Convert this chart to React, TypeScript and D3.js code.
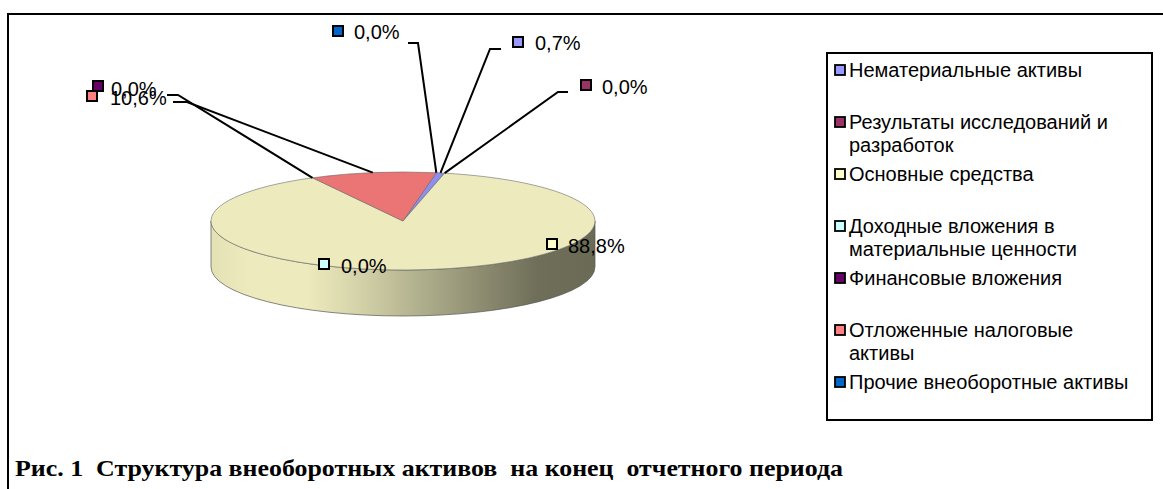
import React from 'react';
import * as d3 from 'd3';

const categories = [
  'Нематериальные активы',
  'Результаты исследований и разработок',
  'Основные средства',
  'Доходные вложения в материальные ценности',
  'Финансовые вложения',
  'Отложенные налоговые активы',
  'Прочие внеоборотные активы',
];
const legendLines = [
  ['Нематериальные активы'],
  ['Результаты исследований и', 'разработок'],
  ['Основные средства'],
  ['Доходные вложения в', 'материальные ценности'],
  ['Финансовые вложения'],
  ['Отложенные налоговые', 'активы'],
  ['Прочие внеоборотные активы'],
];
const values = [0.7, 0.0, 88.8, 0.0, 0.0, 10.6, 0.0];
const seriesColors = ['#9999FF', '#993366', '#FFFFCC', '#CCFFFF', '#660066', '#FF8080', '#0066CC'];
const faceColors = ['#8E8EEE', '#8E3060', '#EDEBBD', '#BEEDED', '#5E005E', '#EB7575', '#005EBE'];
const title = 'Рис. 1  Структура внеоборотных активов  на конец  отчетного периода';

// label layout (marker centre, text start, leader elbow)
const labelLayout = [
  { mx: 518, my: 42, tx: 535, ty: 43, leader: [[501, 49], [490, 49]] },
  { mx: 586, my: 85, tx: 602, ty: 87, leader: [[568, 92], [558, 92]] },
  { mx: 552, my: 244, tx: 568, ty: 246, leader: null },
  { mx: 324, my: 264, tx: 341, ty: 266, leader: null },
  { mx: 98, my: 86, tx: 111, ty: 89, leader: [[167, 95], [178, 95]] },
  { mx: 92, my: 96, tx: 110, ty: 98, leader: [[173, 102], [187, 102]] },
  { mx: 338, my: 31, tx: 354, ty: 32, leader: [[408, 43], [418, 43]] },
];

const cx = 403, cy = 221, rx = 192, ry = 49, depth = 46;
const startDeg = 10;

const fmt = (v: number) => d3.format('.1f')(v).replace('.', ',') + '%';

export default function App() {
  const pie = d3
    .pie<number>()
    .sort(null)
    .value((d) => d)
    .startAngle((startDeg * Math.PI) / 180)
    .endAngle(((startDeg + 360) * Math.PI) / 180);
  const arcs = pie(values);

  const pt = (a: number): [number, number] => [cx + rx * Math.sin(a), cy - ry * Math.cos(a)];

  const topPath = (a0: number, a1: number) => {
    const p0 = pt(a0), p1 = pt(a1);
    const large = a1 - a0 > Math.PI ? 1 : 0;
    return `M${cx},${cy}L${p0[0]},${p0[1]}A${rx},${ry} 0 ${large} 1 ${p1[0]},${p1[1]}Z`;
  };
  const sidePath = (a0: number, a1: number) => {
    const s = Math.max(a0, Math.PI / 2), e = Math.min(a1, (3 * Math.PI) / 2);
    if (e <= s) return null;
    const p0 = pt(s), p1 = pt(e);
    return `M${p0[0]},${p0[1]}A${rx},${ry} 0 0 1 ${p1[0]},${p1[1]}L${p1[0]},${p1[1] + depth}A${rx},${ry} 0 0 0 ${p0[0]},${p0[1] + depth}Z`;
  };

  const gradStops = [
    [0, 0.96], [0.1, 1.0], [0.25, 1.0], [0.4, 0.88], [0.55, 0.74], [0.7, 0.6], [0.85, 0.47], [1, 0.45],
  ];

  return (
    <svg
      width={1163}
      height={489}
      style={{ position: 'absolute', left: 0, top: 0, background: '#fff' }}
      xmlns="http://www.w3.org/2000/svg"
    >
      <defs>
        {faceColors.map((c, i) => {
          const col = d3.rgb(c);
          return (
            <linearGradient key={i} id={`side${i}`} gradientUnits="userSpaceOnUse" x1={cx - rx} x2={cx + rx} y1={0} y2={0}>
              {gradStops.map(([o, k], j) => (
                <stop
                  key={j}
                  offset={o}
                  stopColor={d3.rgb(col.r * k, col.g * k, col.b * k).formatHex()}
                />
              ))}
            </linearGradient>
          );
        })}
      </defs>
      <rect x={0} y={0} width={1163} height={489} fill="#fff" />
      {/* outer frame */}
      <rect x={8} y={14} width={1300} height={600} fill="none" stroke="#000" strokeWidth={2} />

      {/* side walls */}
      {arcs.map((a, i) => {
        const d = sidePath(a.startAngle, a.endAngle);
        return d ? (
          <path key={'s' + i} d={d} fill={`url(#side${i})`} stroke="#555" strokeWidth={0.7} />
        ) : null;
      })}
      {/* top faces */}
      {arcs.map((a, i) =>
        a.endAngle > a.startAngle ? (
          <path key={'t' + i} d={topPath(a.startAngle, a.endAngle)} fill={faceColors[i]} stroke="#6a6a6a" strokeWidth={0.6} />
        ) : null
      )}

      {/* leader lines */}
      {arcs.map((a, i) => {
        const L = labelLayout[i];
        if (!L.leader) return null;
        const m = pt((a.startAngle + a.endAngle) / 2);
        const pts = [...L.leader, m];
        return (
          <polyline key={'l' + i} points={pts.map((p) => p.join(',')).join(' ')} fill="none" stroke="#000" strokeWidth={2} />
        );
      })}

      {/* data labels */}
      {arcs.map((a, i) => {
        const L = labelLayout[i];
        return (
          <g key={'d' + i}>
            <rect x={L.mx - 5} y={L.my - 5} width={10} height={10} fill={seriesColors[i]} stroke="#000" strokeWidth={2} />
            <text
              x={L.tx}
              y={L.ty}
              dy="0.35em"
              fontFamily="'Liberation Sans', Arial, sans-serif"
              fontSize={20}
              fill="#000"
            >
              {fmt(a.data)}
            </text>
          </g>
        );
      })}

      {/* legend */}
      <rect x={827} y={53} width={325} height={367} fill="#fff" stroke="#000" strokeWidth={2} />
      {categories.map((c, i) => {
        const y0 = 70 + 52 * i;
        return (
          <g key={'lg' + i}>
            <rect x={835} y={y0 - 5} width={10} height={10} fill={seriesColors[i]} stroke="#000" strokeWidth={1.8} />
            {legendLines[i].map((ln, j) => (
              <text
                key={j}
                x={849}
                y={y0 + 23 * j}
                dy="0.35em"
                fontFamily="'Liberation Sans', Arial, sans-serif"
                fontSize={20}
                fill="#000"
              >
                {ln}
              </text>
            ))}
          </g>
        );
      })}

      {/* caption */}
      <text
        x={15}
        y={468}
        dy="0.35em"
        fontFamily="'Liberation Serif', 'Times New Roman', serif"
        fontWeight="bold"
        fontSize={23}
        fill="#000"
        textLength={828}
        lengthAdjust="spacingAndGlyphs"
        style={{ whiteSpace: 'pre' }}
      >
        {title}
      </text>
    </svg>
  );
}
